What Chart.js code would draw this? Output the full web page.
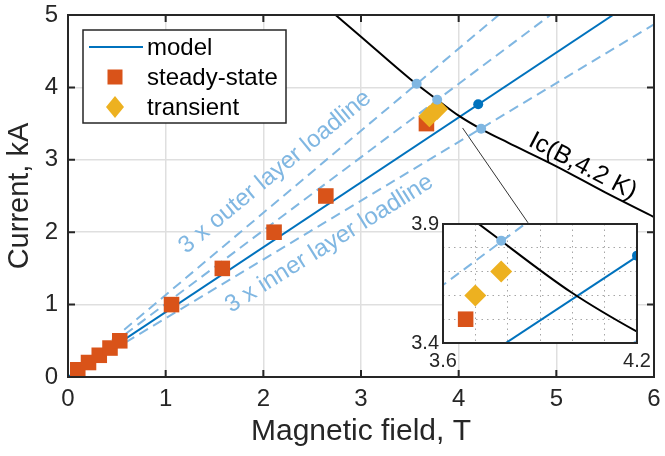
<!DOCTYPE html>
<html>
<head>
<meta charset="utf-8">
<script src="https://cdn.jsdelivr.net/npm/chart.js@4.4.1/dist/chart.umd.min.js"></script>
<style>
  body { margin: 0; background: #fff; }
  #wrap { position: relative; width: 665px; height: 456px; }
  #main { position: absolute; left: 0; top: 0; }
  #inset { position: absolute; left: 395px; top: 205px; }
</style>
</head>
<body>
<div id="wrap">
  <canvas id="main" width="665" height="456"></canvas>
  <canvas id="inset" width="262" height="175"></canvas>
</div>
<script>
// values (B in T, I in kA)
var steadyB = [0.10, 0.21, 0.32, 0.43, 0.53, 1.06, 1.58, 2.11, 2.64, 3.67];
var steadyI = [0.10, 0.20, 0.30, 0.40, 0.50, 1.00, 1.50, 2.00, 2.50, 3.50];
var transB = [3.70, 3.78];
var transI = [3.60, 3.70];
var modelB = [0, 5.58];
var modelI = [0, 5.00];
var outerB1 = [0.45, 4.41];
var outerI1 = [0.51, 5.00];
var outerB2 = [0.45, 4.94];
var outerI2 = [0.455, 5.00];
var innerB = [0.45, 6.00];
var innerI = [0.365, 4.87];
var icB = [2.74, 3.00, 3.50, 3.75, 4.00, 4.25, 4.50, 5.00, 5.50, 6.00];
var icI = [5.00, 4.70, 4.12, 3.86, 3.61, 3.41, 3.24, 2.91, 2.55, 2.21];
var crossB = [3.57, 3.78, 4.23];
var crossI = [4.05, 3.83, 3.43];
var opB = [4.20];
var opI = [3.767];
var linkB = [4.04, 4.71];
var linkI = [3.44, 2.13];

var xTicks = [0, 1, 2, 3, 4, 5, 6];
var yTicks = [0, 1, 2, 3, 4, 5];
var insetX = [3.6, 4.2];
var insetY = [3.4, 3.9];

var FONT = "'Liberation Sans', Arial, Helvetica, sans-serif";
var INK = '#262626';
var MODEL = '#0072BD';
var STEADY = '#D95319';
var TRANS = '#EDB120';
var LOAD = '#80B7E2';

function pts(xs, ys){
  return xs.map(function(x, i){ return {x: x, y: ys[i]}; });
}

function lineSet(xs, ys, color, width, dash, order){
  return {
    data: pts(xs, ys), showLine: true, borderColor: color, borderWidth: width,
    borderDash: dash, pointRadius: 0, fill: false, order: order
  };
}

function makeDatasets(withLink){
  var sets = [
    { data: pts(crossB, crossI), pointRadius: 5, pointBackgroundColor: LOAD, pointBorderWidth: 0, order: 0 },
    { data: pts(opB, opI), pointRadius: 5, pointBackgroundColor: MODEL, pointBorderWidth: 0, order: 0 },
    { label: 'transient', data: pts(transB, transI), pointStyle: 'rectRot', pointRadius: 11,
      pointBackgroundColor: TRANS, pointBorderColor: TRANS, pointBorderWidth: 0, order: 1 },
    { label: 'steady-state', data: pts(steadyB, steadyI), pointStyle: 'rect', pointRadius: 11,
      pointBackgroundColor: STEADY, pointBorderColor: STEADY, pointBorderWidth: 0, order: 2 },
    Object.assign(lineSet(icB, icI, '#000', 2, [], 3), { cubicInterpolationMode: 'monotone' }),
    Object.assign(lineSet(modelB, modelI, MODEL, 2, [], 4), { label: 'model' }),
    lineSet(outerB1, outerI1, LOAD, 2, [10, 6], 5),
    lineSet(outerB2, outerI2, LOAD, 2, [10, 6], 5),
    lineSet(innerB, innerI, LOAD, 2, [10, 6], 5)
  ];
  if (withLink) sets.push(lineSet(linkB, linkI, '#333', 1, [], 6));
  return sets;
}

// keep the plot box where the layout padding puts it
function noOverflow(s){
  s.paddingLeft = 0; s.paddingRight = 0; s.paddingTop = 0; s.paddingBottom = 0;
}

// axes box with inward ticks
var framePlugin = {
  id: 'frame',
  afterDraw: function(chart, args, opts){
    var ctx = chart.ctx, a = chart.chartArea;
    var sx = chart.scales.x, sy = chart.scales.y;
    ctx.save();
    ctx.strokeStyle = INK;
    ctx.lineWidth = 2;
    if (opts.ticks) {
      ctx.beginPath();
      xTicks.forEach(function(v){
        var px = sx.getPixelForValue(v);
        ctx.moveTo(px, a.bottom); ctx.lineTo(px, a.bottom - 7);
        ctx.moveTo(px, a.top); ctx.lineTo(px, a.top + 7);
      });
      yTicks.forEach(function(v){
        var py = sy.getPixelForValue(v);
        ctx.moveTo(a.left, py); ctx.lineTo(a.left + 7, py);
        ctx.moveTo(a.right, py); ctx.lineTo(a.right - 7, py);
      });
      ctx.stroke();
    }
    ctx.strokeRect(a.left, a.top, a.right - a.left, a.bottom - a.top);
    ctx.restore();
  }
};

// rotated text labels and the legend box
var notesPlugin = {
  id: 'notes',
  afterDatasetsDraw: function(chart){
    var ctx = chart.ctx;
    var sx = chart.scales.x, sy = chart.scales.y;
    var notes = [
      { text: '3 x outer layer loadline', b: 2.12, i: 2.83, deg: -39.6, color: LOAD, size: 24 },
      { text: '3 x inner layer loadline', b: 2.675, i: 1.84, deg: -32, color: LOAD, size: 24 },
      { text: 'Ic(B,4.2 K)', b: 5.27, i: 2.91, deg: 27.5, color: '#000', size: 25 }
    ];
    ctx.save();
    notes.forEach(function(n){
      ctx.save();
      ctx.translate(sx.getPixelForValue(n.b), sy.getPixelForValue(n.i));
      ctx.rotate(n.deg * Math.PI / 180);
      ctx.font = n.size + 'px ' + FONT;
      ctx.fillStyle = n.color;
      ctx.textAlign = 'center';
      ctx.textBaseline = 'middle';
      ctx.fillText(n.text, 0, 0);
      ctx.restore();
    });
    ctx.restore();
  },
  afterDraw: function(chart){
    var ctx = chart.ctx, a = chart.chartArea;
    var lx = a.left + 15, ly = a.top + 15, lw = 203, lh = 93;
    ctx.save();
    ctx.fillStyle = '#fff';
    ctx.fillRect(lx, ly, lw, lh);
    ctx.strokeStyle = INK;
    ctx.lineWidth = 1.5;
    ctx.strokeRect(lx, ly, lw, lh);
    ctx.font = '24px ' + FONT;
    ctx.fillStyle = '#000';
    ctx.textBaseline = 'middle';
    var rows = ['model', 'steady-state', 'transient'];
    rows.forEach(function(t, k){
      var cy = ly + 17 + k * 30;
      var cx = lx + 32;
      if (k === 0) {
        ctx.strokeStyle = MODEL; ctx.lineWidth = 2;
        ctx.beginPath(); ctx.moveTo(lx + 6, cy); ctx.lineTo(lx + 60, cy); ctx.stroke();
      } else if (k === 1) {
        ctx.fillStyle = STEADY; ctx.fillRect(cx - 7.5, cy - 7.5, 15, 15);
      } else {
        ctx.fillStyle = TRANS;
        ctx.beginPath(); ctx.moveTo(cx, cy - 11); ctx.lineTo(cx + 9, cy); ctx.lineTo(cx, cy + 11); ctx.lineTo(cx - 9, cy); ctx.closePath(); ctx.fill();
      }
      ctx.fillStyle = '#000';
      ctx.fillText(t, lx + 64, cy + 1);
    });
    ctx.restore();
  }
};

var insetBg = {
  id: 'insetBg',
  beforeDraw: function(chart){
    var a = chart.chartArea;
    chart.ctx.save();
    chart.ctx.fillStyle = '#fff';
    chart.ctx.fillRect(a.left, a.top, a.right - a.left, a.bottom - a.top);
    chart.ctx.restore();
  }
};

new Chart(document.getElementById('main').getContext('2d'), {
  type: 'scatter',
  plugins: [framePlugin, notesPlugin],
  data: { datasets: makeDatasets(true) },
  options: {
    responsive: false,
    animation: false,
    events: [],
    layout: { padding: { top: 15, right: 4, left: 0, bottom: 0 } },
    scales: {
      x: {
        type: 'linear', min: 0, max: 6,
        afterBuildTicks: function(s){ s.ticks = xTicks.map(function(v){ return {value: v}; }); },
        afterFit: function(s){ s.height = 79; noOverflow(s); },
        ticks: { color: INK, font: { family: FONT, size: 24 }, padding: 8, maxRotation: 0 },
        grid: { color: '#dfdfdf', lineWidth: 1.5, drawTicks: false },
        border: { display: false },
        title: { display: true, text: 'Magnetic field, T', color: INK,
                 font: { family: FONT, size: 30 }, padding: { top: 0, bottom: 6 } }
      },
      y: {
        type: 'linear', min: 0, max: 5,
        afterBuildTicks: function(s){ s.ticks = yTicks.map(function(v){ return {value: v}; }); },
        afterFit: function(s){ s.width = 68; noOverflow(s); },
        ticks: { color: INK, font: { family: FONT, size: 24 }, padding: 10 },
        grid: { color: '#dfdfdf', lineWidth: 1.5, drawTicks: false },
        border: { display: false },
        title: { display: true, text: 'Current, kA', color: INK,
                 font: { family: FONT, size: 29 }, padding: { top: 3, bottom: 0 } }
      }
    },
    plugins: {
      legend: { display: false },
      tooltip: { enabled: false },
      frame: { ticks: true }
    }
  }
});

function endLabel(ends){
  return function(v){
    for (var k = 0; k < ends.length; k++) {
      if (Math.abs(v - ends[k]) < 1e-6) return ends[k].toFixed(1);
    }
    return '';
  };
}

new Chart(document.getElementById('inset').getContext('2d'), {
  type: 'scatter',
  plugins: [insetBg, framePlugin],
  data: { datasets: makeDatasets(false) },
  options: {
    responsive: false,
    animation: false,
    events: [],
    layout: { padding: { top: 19, right: 20, left: 0, bottom: 0 } },
    scales: {
      x: {
        type: 'linear', min: insetX[0], max: insetX[1],
        afterFit: function(s){ s.height = 37; noOverflow(s); },
        ticks: { stepSize: 0.1, autoSkip: false, maxRotation: 0, color: INK,
                 font: { family: FONT, size: 20 }, padding: 6, callback: endLabel(insetX) },
        grid: { color: 'rgba(0,0,0,0.35)', lineWidth: 1, drawTicks: false },
        border: { display: false, dash: [1.5, 4] }
      },
      y: {
        type: 'linear', min: insetY[0], max: insetY[1],
        afterFit: function(s){ s.width = 48; noOverflow(s); },
        ticks: { stepSize: 0.1, autoSkip: false, color: INK,
                 font: { family: FONT, size: 20 }, padding: 4, callback: endLabel(insetY) },
        grid: { color: 'rgba(0,0,0,0.35)', lineWidth: 1, drawTicks: false },
        border: { display: false, dash: [1.5, 4] }
      }
    },
    plugins: {
      legend: { display: false },
      tooltip: { enabled: false },
      frame: { ticks: false }
    }
  }
});
</script>
</body>
</html>
